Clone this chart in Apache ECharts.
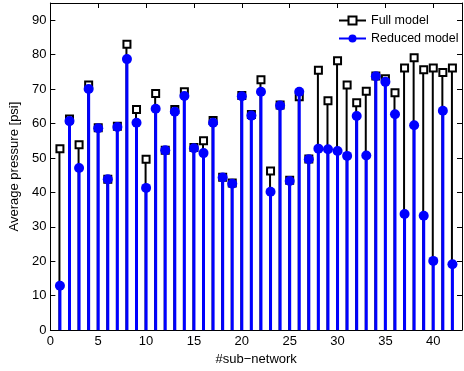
<!DOCTYPE html>
<html>
<head>
<meta charset="utf-8">
<script src="https://cdn.jsdelivr.net/npm/echarts@6/dist/echarts.min.js"></script>
<style>
  html, body { margin: 0; padding: 0; background: #fff; }
  #chart { width: 464px; height: 371px; }
</style>
</head>
<body>
<div id="chart"></div>
<script>
// sub-network index 1..42
const subNetworks = [1,2,3,4,5,6,7,8,9,10,11,12,13,14,15,16,17,18,19,20,21,
    22,23,24,25,26,27,28,29,30,31,32,33,34,35,36,37,38,39,40,41,42];

// average pressure [psi], full model
const fullModel = [52.7, 61.3, 53.8, 71.2, 58.8, 43.8, 59.2, 83.0, 64.1, 49.6,
    68.7, 52.2, 64.1, 69.2, 53.0, 55.0, 60.9, 44.4, 42.7, 68.1, 62.6, 72.7,
    46.2, 65.4, 43.5, 67.8, 49.7, 75.5, 66.6, 78.2, 71.2, 66.0, 69.4, 73.8,
    73.0, 68.9, 76.1, 79.1, 75.6, 76.1, 74.8, 76.1];

// average pressure [psi], reduced model
const reducedModel = [12.9, 60.7, 47.1, 70.0, 58.6, 43.8, 59.0, 78.7, 60.2, 41.3,
    64.3, 52.2, 63.4, 68.0, 52.8, 51.4, 60.2, 44.3, 42.5, 67.9, 62.3, 69.2,
    40.2, 65.2, 43.3, 69.2, 49.6, 52.7, 52.5, 52.0, 50.6, 62.2, 50.7, 73.7,
    72.1, 62.7, 33.7, 59.5, 33.2, 20.1, 63.7, 19.1];

const xTicks = [0, 5, 10, 15, 20, 25, 30, 35, 40];
const yTicks = [0, 10, 20, 30, 40, 50, 60, 70, 80, 90];

const fullPts = subNetworks.map((x, i) => [x, fullModel[i]]);
const reducedPts = subNetworks.map((x, i) => [x, reducedModel[i]]);

const fontFamily = 'Liberation Sans, Arial, sans-serif';

const chart = echarts.init(document.getElementById('chart'));

const frameAxis = {
    axisLine: { show: true, onZero: false, lineStyle: { color: '#000', width: 1 } },
    axisLabel: { show: false },
    splitLine: { show: false }
};

function ticks(values) {
    return { show: true, inside: true, length: 5, lineStyle: { color: '#000' }, customValues: values };
}

chart.setOption({
    animation: false,
    backgroundColor: '#fff',
    grid: { left: 49, top: 3, right: 2, bottom: 40, containLabel: false },
    legend: {
        orient: 'vertical',
        left: 333,
        top: 9,
        itemWidth: 27,
        itemHeight: 10,
        itemGap: 5,
        textStyle: { fontFamily: fontFamily, fontSize: 12.5, color: '#000' },
        data: [
            { name: 'Full model', lineStyle: { width: 2, color: '#000' } },
            { name: 'Reduced model', lineStyle: { width: 2, color: '#0000ff' } }
        ]
    },
    xAxis: [
        Object.assign({}, frameAxis, {
            type: 'value',
            min: 0, max: 43, interval: 5,
            position: 'bottom',
            name: '#sub\u2212network',
            nameLocation: 'middle',
            nameGap: 22,
            nameTextStyle: { fontFamily: fontFamily, fontSize: 13, color: '#000' },
            axisLabel: {
                show: true, fontFamily: fontFamily, fontSize: 13, color: '#000', margin: 5,
                customValues: xTicks
            },
            axisTick: ticks(xTicks)
        }),
        Object.assign({}, frameAxis, {
            type: 'value', min: 0, max: 43, interval: 5, position: 'top',
            axisTick: ticks(xTicks)
        })
    ],
    yAxis: [
        Object.assign({}, frameAxis, {
            type: 'value',
            min: 0, max: 95, interval: 10,
            position: 'left',
            name: 'Average pressure [psi]',
            nameLocation: 'middle',
            nameGap: 23,
            nameTextStyle: { fontFamily: fontFamily, fontSize: 13, color: '#000' },
            axisLabel: {
                show: true, fontFamily: fontFamily, fontSize: 13, color: '#000', margin: 4,
                customValues: yTicks
            },
            axisTick: ticks(yTicks)
        }),
        Object.assign({}, frameAxis, {
            type: 'value', min: 0, max: 95, interval: 10, position: 'right',
            axisTick: ticks(yTicks)
        })
    ],
    series: [
        // markers (named for the legend)
        {
            name: 'Full model',
            type: 'line',
            data: fullPts,
            z: 2,
            symbol: 'rect',
            symbolSize: 7,
            showAllSymbol: true,
            lineStyle: { width: 0, color: '#000' },
            itemStyle: { color: '#fff', borderColor: '#000', borderWidth: 2 }
        },
        {
            name: 'Reduced model',
            type: 'line',
            data: reducedPts,
            z: 4,
            symbol: 'circle',
            symbolSize: 10,
            showAllSymbol: true,
            lineStyle: { width: 0, color: '#0000ff' },
            itemStyle: { color: '#0000ff' }
        },
        // stems
        {
            name: 'Full model',
            type: 'bar',
            data: fullPts,
            z: 1,
            barWidth: 2,
            barGap: '-100%',
            itemStyle: { color: '#000' }
        },
        {
            name: 'Reduced model',
            type: 'bar',
            data: reducedPts,
            z: 3,
            barWidth: 3,
            barGap: '-100%',
            itemStyle: { color: '#0000ff' }
        }
    ]
});
</script>
</body>
</html>
